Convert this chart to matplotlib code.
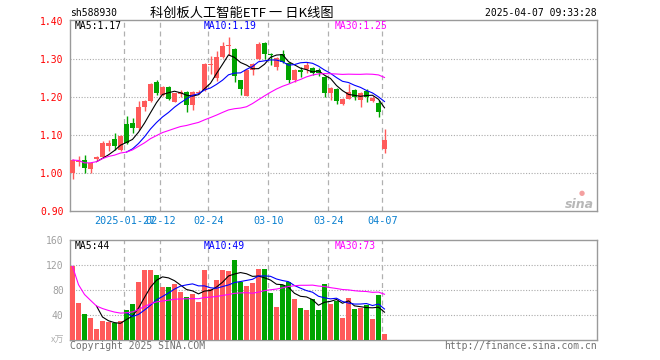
import matplotlib
matplotlib.use("Agg")
import matplotlib.pyplot as plt
import numpy as np
import pandas as pd

# ---------------- data ----------------
dates = ["01-14", "01-15", "01-16", "01-17", "01-20", "01-21", "01-22", "01-23", "01-24", "01-27",
         "02-05", "02-06", "02-07", "02-10", "02-11", "02-12", "02-13", "02-14", "02-17", "02-18",
         "02-19", "02-20", "02-21", "02-24", "02-25", "02-26", "02-27", "02-28", "03-03", "03-04",
         "03-05", "03-06", "03-07", "03-10", "03-11", "03-12", "03-13", "03-14", "03-17", "03-18",
         "03-19", "03-20", "03-21", "03-24", "03-25", "03-26", "03-27", "03-28", "03-31", "04-01",
         "04-02", "04-03", "04-07"]
opens = [1.000, 1.030, 1.034, 1.010, 1.036, 1.043, 1.071, 1.090, 1.060, 1.129,
         1.132, 1.118, 1.174, 1.190, 1.239, 1.205, 1.227, 1.188, 1.208, 1.214,
         1.179, 1.211, 1.218, 1.285, 1.250, 1.304, 1.334, 1.326, 1.245, 1.203,
         1.272, 1.299, 1.341, 1.313, 1.280, 1.312, 1.290, 1.245, 1.271, 1.273,
         1.277, 1.271, 1.253, 1.211, 1.221, 1.182, 1.196, 1.218, 1.192, 1.217,
         1.189, 1.183, 1.062]
highs = [1.036, 1.045, 1.048, 1.028, 1.044, 1.085, 1.087, 1.104, 1.099, 1.150,
         1.146, 1.190, 1.192, 1.238, 1.245, 1.229, 1.230, 1.211, 1.218, 1.217,
         1.215, 1.218, 1.290, 1.308, 1.320, 1.345, 1.359, 1.328, 1.246, 1.273,
         1.289, 1.345, 1.345, 1.316, 1.304, 1.324, 1.293, 1.273, 1.280, 1.293,
         1.279, 1.276, 1.256, 1.226, 1.223, 1.197, 1.234, 1.220, 1.213, 1.220,
         1.203, 1.192, 1.115]
lows = [0.983, 1.018, 1.001, 0.999, 1.034, 1.041, 1.059, 1.060, 1.059, 1.076,
        1.106, 1.113, 1.164, 1.188, 1.204, 1.203, 1.192, 1.186, 1.201, 1.161,
        1.167, 1.207, 1.217, 1.260, 1.243, 1.303, 1.311, 1.240, 1.205, 1.202,
        1.259, 1.297, 1.300, 1.284, 1.271, 1.289, 1.236, 1.239, 1.252, 1.264,
        1.258, 1.256, 1.199, 1.192, 1.182, 1.180, 1.194, 1.192, 1.175, 1.188,
        1.187, 1.148, 1.053]
closes = [1.034, 1.032, 1.014, 1.027, 1.042, 1.078, 1.078, 1.071, 1.097, 1.078,
          1.118, 1.173, 1.190, 1.234, 1.211, 1.225, 1.196, 1.210, 1.214, 1.179,
          1.213, 1.214, 1.288, 1.287, 1.306, 1.335, 1.338, 1.255, 1.220, 1.272,
          1.287, 1.339, 1.313, 1.311, 1.302, 1.293, 1.246, 1.271, 1.267, 1.283,
          1.262, 1.264, 1.211, 1.224, 1.190, 1.195, 1.214, 1.199, 1.211, 1.201,
          1.198, 1.161, 1.087]
volumes = [118.0, 59.0, 41.5, 35.5, 18.0, 30.0, 29.0, 26.5, 30.0, 48.5,
           57.5, 92.5, 112.0, 112.0, 104.0, 84.5, 84.5, 89.5, 77.0, 68.5,
           73.5, 60.5, 112.0, 81.5, 96.0, 112.0, 110.5, 128.0, 93.0, 86.5,
           91.0, 113.5, 113.5, 75.0, 53.0, 87.5, 92.5, 65.5, 51.0, 48.0,
           65.5, 48.0, 89.5, 58.0, 63.0, 35.5, 67.0, 49.5, 51.5, 56.0,
           33.5, 72.0, 9.6]
label_dates = ["2025-01-27", "02-12", "02-24", "03-10", "03-24", "04-07"]
price_ticks = [0.90, 1.00, 1.10, 1.20, 1.30, 1.40]
vol_ticks = [40, 80, 120, 160]

# ---------------- style ----------------
RED = "#ff5a5a"
GREEN = "#00a400"
BLUE = "#0000ff"
MAG = "#ff00ff"
AXIS = "#9a9a9a"
DATEC = "#0a80d0"
MONO = "DejaVu Sans Mono"
CJK = ["Noto Sans CJK SC", "DejaVu Sans"]
FS = 7

W, H = 660, 360
fig = plt.figure(figsize=(W / 100, H / 100), dpi=100)
fig.patch.set_facecolor("white")


def fx(px):
    return px / W


def fy(py):
    return 1 - py / H


L, R = 70, 597
slot = 6.0
x0 = -(72.5 - L) / slot
x1 = x0 + (R - L) / slot

ax1 = fig.add_axes([fx(L), fy(211), (R - L) / W, 191 / H])
ax2 = fig.add_axes([fx(L), fy(340), (R - L) / W, 100 / H])

n = len(closes)
idx = np.arange(n)
o = np.array(opens)
c = np.array(closes)
h = np.array(highs)
lo = np.array(lows)
v = np.array(volumes)
up = c >= o
cols = [RED if u else GREEN for u in up]

# candles
bw = 5 / 6
ax1.vlines(idx, lo, h, colors=cols, linewidth=1.0, zorder=3)
body_bottom = np.minimum(o, c)
body_h = np.maximum(np.abs(c - o), 0.0015)
ax1.bar(idx, body_h, bottom=body_bottom, width=bw, color=cols, linewidth=0, zorder=4)

cs = pd.Series(c)
ma5 = cs.rolling(5).mean()
ma10 = cs.rolling(10).mean()
ma30 = cs.rolling(30, min_periods=1).mean()
ax1.plot(idx, ma5, color="black", lw=0.8, zorder=5)
ax1.plot(idx, ma10, color=BLUE, lw=0.8, zorder=5)
ax1.plot(idx, ma30, color=MAG, lw=0.8, zorder=5)

ax1.set_xlim(x0, x1)
ax1.set_ylim(0.9, 0.9 + 191 / 380)
for p in price_ticks[1:-1]:
    ax1.axhline(p, color="#aaaaaa", lw=0.8, ls=(0, (1, 1.5)), zorder=1)

# volume
ax2.bar(idx, v, width=bw, color=cols, linewidth=0, zorder=3)
vs = pd.Series(v)
vma5 = vs.rolling(5).mean()
vma10 = vs.rolling(10).mean()
vma30 = vs.rolling(30, min_periods=1).mean()
ax2.plot(idx, vma5, color="black", lw=0.8, zorder=5)
ax2.plot(idx, vma10, color=BLUE, lw=0.8, zorder=5)
ax2.plot(idx, vma30, color=MAG, lw=0.8, zorder=5)
ax2.set_xlim(x0, x1)
ax2.set_ylim(0, 160)
for t in vol_ticks[:-1]:
    ax2.axhline(t, color="#aaaaaa", lw=0.8, ls=(0, (1, 1.5)), zorder=1)

# date separators
label_idx = [dates.index(d[-5:]) for d in label_dates]
for li in label_idx:
    for ax in (ax1, ax2):
        ax.axvline(li - 0.35, color="#b0b0b0", lw=0.9, ls=(0, (4, 3)), zorder=2)

for ax in (ax1, ax2):
    for s in ax.spines.values():
        s.set_color(AXIS)
        s.set_linewidth(1.0)
    ax.set_xticks([])
    ax.tick_params(axis="y", length=0, pad=4.5)

ax1.set_yticks(price_ticks)
ax1.set_yticklabels([f"{p:.2f}" for p in price_ticks], fontsize=FS, family=MONO, color="red")
ax2.set_yticks(vol_ticks)
ax2.set_yticklabels([str(t) for t in vol_ticks], fontsize=FS, family=MONO, color="#a0a0a0")

# x labels
for lab, li in zip(label_dates, label_idx):
    xpix = 72.5 + slot * li - 2
    fig.text(fx(xpix), fy(221.5), lab, ha="center", va="center", fontsize=FS + 0.3,
             family=MONO, color=DATEC)

# header texts
fig.text(fx(70), fy(13), "sh588930", ha="left", va="center", fontsize=FS, family=MONO, color="black")
fig.text(fx(150), fy(13), "科创板人工智能ETF 一 日K线图", ha="left", va="center", fontsize=9.5,
         family=CJK, color="black")
fig.text(fx(597), fy(13), "2025-04-07 09:33:28", ha="right", va="center", fontsize=FS,
         family=MONO, color="black")

# MA labels
fig.text(fx(75), fy(26), f"MA5:{ma5.iloc[-1]:.2f}", ha="left", va="center", fontsize=FS, family=MONO, color="black")
fig.text(fx(204), fy(26), f"MA10:{ma10.iloc[-1]:.2f}", ha="left", va="center", fontsize=FS, family=MONO, color=BLUE)
fig.text(fx(334.5), fy(26), f"MA30:{ma30.iloc[-1]:.2f}", ha="left", va="center", fontsize=FS, family=MONO, color=MAG)
fig.text(fx(75), fy(246), f"MA5:{int(vma5.iloc[-1])}", ha="left", va="center", fontsize=FS, family=MONO, color="black")
fig.text(fx(204), fy(246), f"MA10:{int(vma10.iloc[-1])}", ha="left", va="center", fontsize=FS, family=MONO, color=BLUE)
fig.text(fx(334.5), fy(246), f"MA30:{int(vma30.iloc[-1])}", ha="left", va="center", fontsize=FS, family=MONO, color=MAG)

# unit and footer
fig.text(fx(64), fy(340), "x万", ha="right", va="center", fontsize=6.5, family=CJK, color="#b0b0b0")
fig.text(fx(70), fy(346), "Copyright 2025 SINA.COM", ha="left", va="center", fontsize=FS,
         family=MONO, color="#707070")
fig.text(fx(597), fy(346), "http://finance.sina.com.cn", ha="right", va="center", fontsize=FS,
         family=MONO, color="#707070")

# sina watermark
fig.text(fx(594), fy(204), "sina", ha="right", va="center", fontsize=9, style="italic",
         weight="bold", color="#b8b8b8", family="DejaVu Sans")
fig.text(fx(582), fy(193), "●", ha="center", va="center", fontsize=5, color="#f4a0a0")

fig.savefig("out.png", dpi=100, facecolor="white")
